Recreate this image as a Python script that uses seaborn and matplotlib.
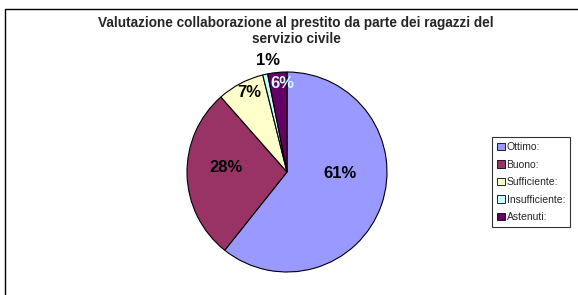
import numpy as np
import matplotlib
matplotlib.use("Agg")
import matplotlib.pyplot as plt
import matplotlib.patches as mpatches
import seaborn as sns

# --- Data ---
categories = ["Ottimo:", "Buono:", "Sufficiente:", "Insufficiente:", "Astenuti:"]
shares = [60.7, 27.8, 7.6, 0.8, 3.1]          # slice sizes as drawn
pct_labels = ["61%", "28%", "7%", "1%", "6%"]   # labels as printed
colors = ["#9999FF", "#993366", "#FFFFCC", "#CCFFFF", "#660066"]
label_colors = ["black", "black", "black", "black", "#CCFFFF"]
label_dist = [0.53, 0.61, 0.88, 1.13, 0.89]     # how far out each label sits
label_turn = [-18, 6, 2, 3, 2.5]                # Excel's nudge off the mid angle (deg)
title = "Valutazione collaborazione al prestito da parte dei ragazzi del\nservizio civile"

sns.set_theme(style="white")
plt.rcParams["font.family"] = ["Liberation Sans", "DejaVu Sans"]

W, H = 578, 295
fig = plt.figure(figsize=(W / 100, H / 100), dpi=100)
fig.patch.set_facecolor("white")

# outer chart frame (right/bottom run off the picture)
fig.patches.append(mpatches.Rectangle((5 / W, -0.1), 1.2, 1 - 9 / H + 0.1,
                                      transform=fig.transFigure, fill=False,
                                      edgecolor="black", linewidth=1.0))

# pie axes: centre (287,172), radius 100 px
ax = fig.add_axes([187 / W, (H - 272) / H, 200 / W, 200 / H])
wedges, _ = ax.pie(shares, colors=sns.color_palette(colors), startangle=90,
                   counterclock=False, radius=1,
                   wedgeprops=dict(edgecolor="black", linewidth=0.8))
ax.set_xlim(-1, 1)
ax.set_ylim(-1, 1)
ax.set_aspect("equal")
ax.axis("off")

# percent labels near each slice's mid angle
total = sum(shares)
cum = np.cumsum([0] + shares)
for i, lab in enumerate(pct_labels):
    mid = (cum[i] + shares[i] / 2) / total * 2 * np.pi + np.radians(label_turn[i])
    x = label_dist[i] * np.sin(mid)
    y = label_dist[i] * np.cos(mid)
    ax.text(x, y, lab, ha="center", va="center", fontsize=12,
            fontweight="bold", color=label_colors[i], clip_on=False)

fig.text(296 / W, 1 - 31 / H, title, ha="center", va="center",
         fontsize=9.8, fontweight="bold", linespacing=1.15)

leg = fig.legend(wedges, categories, loc="upper left",
                 bbox_to_anchor=(492 / W, 1 - 137 / H), frameon=True,
                 fancybox=False, edgecolor="black", fontsize=7.5,
                 handlelength=0.7, handleheight=0.7, handletextpad=0.2,
                 labelspacing=0.72, borderpad=0.5, borderaxespad=0)
leg.get_frame().set_linewidth(0.8)
for h in leg.legend_handles:
    h.set_linewidth(0.6)

fig.savefig("out.png", dpi=100)
